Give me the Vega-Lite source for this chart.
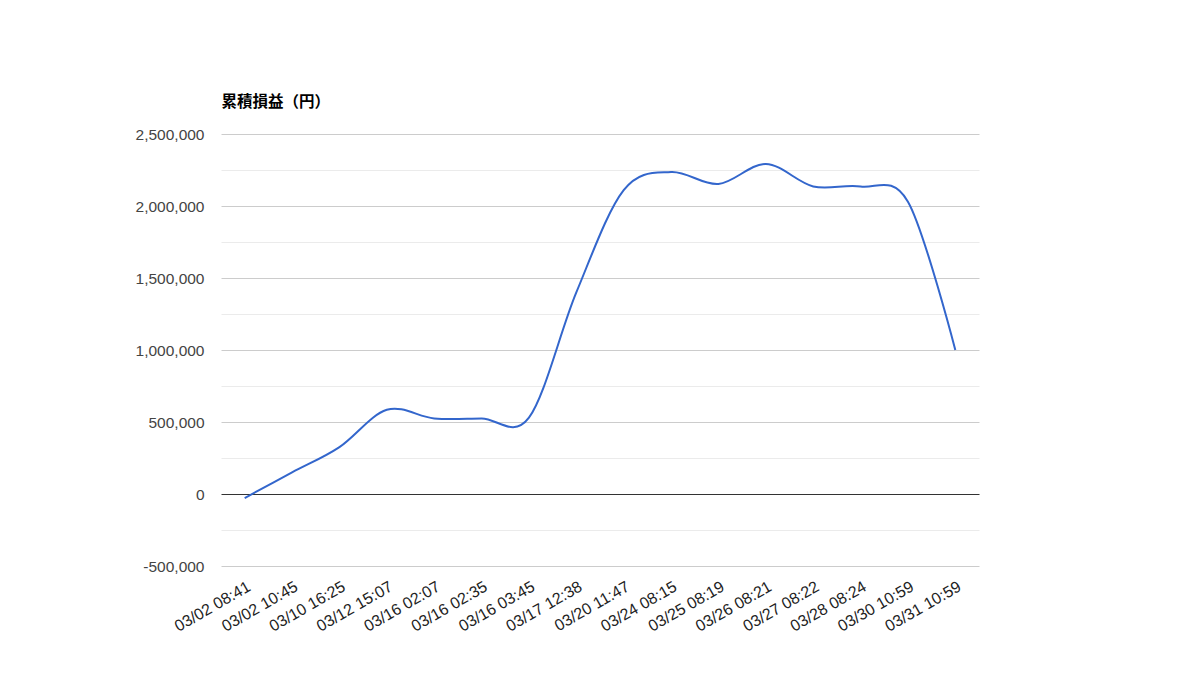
{
  "$schema": "https://vega.github.io/schema/vega-lite/v6.json",
  "width": 758,
  "height": 432,
  "autosize": {"type": "none"},
  "padding": {"left": 221, "top": 134, "right": 221, "bottom": 134},
  "background": "#ffffff",
  "config": {"view": {"stroke": null}, "font": "Liberation Sans"},
  "data": {"values": [
    {"t": "03/02 08:41", "v": -28000},
    {"t": "03/02 10:45", "v": 150000},
    {"t": "03/10 16:25", "v": 326000},
    {"t": "03/12 15:07", "v": 585000},
    {"t": "03/16 02:07", "v": 525000},
    {"t": "03/16 02:35", "v": 525000},
    {"t": "03/16 03:45", "v": 530000},
    {"t": "03/17 12:38", "v": 1400000},
    {"t": "03/20 11:47", "v": 2110000},
    {"t": "03/24 08:15", "v": 2236000},
    {"t": "03/25 08:19", "v": 2153000},
    {"t": "03/26 08:21", "v": 2292000},
    {"t": "03/27 08:22", "v": 2136000},
    {"t": "03/28 08:24", "v": 2136000},
    {"t": "03/30 10:59", "v": 2030000},
    {"t": "03/31 10:59", "v": 1000000}
  ]},
  "mark": {"type": "line", "color": "#3366cc", "strokeWidth": 2, "interpolate": "cardinal", "tension": 0},
  "encoding": {
    "x": {
      "field": "t", "type": "ordinal", "sort": null,
      "scale": {"type": "point", "padding": 0.5},
      "axis": {
        "title": null, "domain": false, "ticks": false, "tickSize": 0, "grid": false,
        "labelAngle": -30, "labelAlign": "right", "labelBaseline": "top",
        "labelPadding": 12, "labelDx": -3, "labelFontSize": 16, "labelColor": "#222222",
        "labelFont": "Liberation Sans", "labelOverlap": false
      }
    },
    "y": {
      "field": "v", "type": "quantitative",
      "scale": {"domain": [-500000, 2500000], "nice": false, "zero": false},
      "axis": {
        "values": [-500000, -250000, 0, 250000, 500000, 750000, 1000000, 1250000, 1500000, 1750000, 2000000, 2250000, 2500000],
        "labelExpr": "datum.value % 500000 === 0 ? replace(format(datum.value, ','), '−', '-') : ''",
        "domain": false, "ticks": false, "tickSize": 0,
        "grid": true,
        "gridColor": {"condition": [{"test": "datum.value === 0", "value": "#333333"}, {"test": "datum.value % 500000 === 0", "value": "#cccccc"}], "value": "#ebebeb"},
        "gridWidth": 1,
        "labelPadding": 17, "labelFontSize": 15.5, "labelColor": "#444444",
        "labelFont": "Liberation Sans", "labelBaseline": "middle",
        "title": "累積損益（円）",
        "titleAngle": 0, "titleAlign": "left", "titleBaseline": "middle",
        "titleX": 0, "titleY": -33,
        "titleFont": "Noto Sans CJK JP", "titleFontSize": 15.5, "titleFontWeight": "bold", "titleColor": "#000000"
      }
    }
  }
}
